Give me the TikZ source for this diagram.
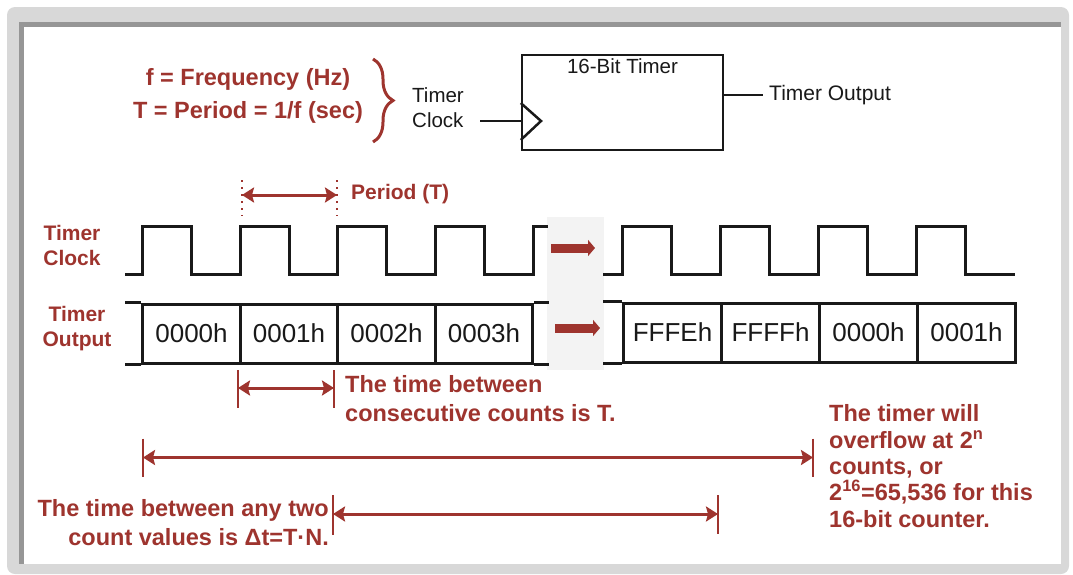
\documentclass[tikz,border=0pt]{standalone}
\usepackage{fontspec}
\setmainfont{Liberation Sans}
\usepackage{tikz}
\usetikzlibrary{decorations.pathreplacing, arrows.meta, calc}
\definecolor{brick}{RGB}{158,52,46}
\definecolor{inkblack}{RGB}{25,25,25}
\definecolor{framegray}{RGB}{216,216,216}
\definecolor{framedark}{RGB}{150,150,150}
\definecolor{gapgray}{RGB}{243,243,243}
\tikzset{
    wave/.style={draw=inkblack, line width=3pt, line join=miter},
    cell/.style={draw=inkblack, line width=3pt, minimum width=97.5pt, minimum height=59pt,
        inner sep=0pt, text=inkblack, font=\fontsize{26}{26}\selectfont},
    stub/.style={draw=inkblack, line width=3pt},
    plaintext/.style={align=left, inner sep=0pt, text=inkblack, font=\fontsize{20.5}{25}\selectfont},
    redlabel/.style={align=center, inner sep=0pt, text=brick, font=\bfseries\fontsize{21}{25}\selectfont},
    note/.style={inner sep=0pt, text=brick, font=\bfseries\fontsize{23.5}{29}\selectfont},
    dimbar/.style={draw=brick, line width=2pt},
    dimarrow/.style={draw=brick, line width=3pt, {Stealth[length=12pt,width=15pt,inset=2pt]}-{Stealth[length=12pt,width=15pt,inset=2pt]}},
    gaparrow/.style={draw=brick, line width=9pt, -{Triangle[length=7pt,width=16pt]}}
}

\begin{document}
\begin{tikzpicture}[x=1pt, y=-1pt]
    \useasboundingbox (0,0) rectangle (1073,574);

    % frame
    \fill[framegray, rounded corners=8pt] (7,7) rectangle (1069,574);
    \fill[framedark] (19,22) rectangle (1061,564);
    \fill[white] (24,27) rectangle (1061,564);

    % definitions and timer block
    \node[note, align=center, font=\bfseries\fontsize{23.5}{33}\selectfont] (defs) at (248,95.5)
        {f = Frequency (Hz)\\T = Period = 1/f (sec)};
    \draw[brick, line width=3pt, decorate, decoration={brace, amplitude=20pt}] (373,59) -- (373,142);
    \node[plaintext, anchor=west] (clklbl) at (412,107.5) {Timer\\Clock};

    \node[draw=inkblack, line width=2.5pt, minimum width=201pt, minimum height=95pt] (timer) at (622.5,102.5) {};
    \node[plaintext, anchor=north] (timertitle) at ([yshift=-5pt]timer.north) {16-Bit Timer};
    \draw[inkblack, line width=2.5pt] (timer.west |- 0,103) -- (541,121) -- (timer.west |- 0,140);
    \coordinate (clkin) at (480,121);
    \draw[inkblack, line width=2.5pt] (clkin) -- (clkin -| timer.west);
    \node[plaintext, anchor=west, font=\fontsize{21}{25}\selectfont] (outlbl) at (769,95) {Timer Output};
    \draw[inkblack, line width=2.5pt] (timer.east |- outlbl) -- ([xshift=-6pt]outlbl.west);

    % gap between the two halves
    \fill[gapgray] (547,217) rectangle (604,370);
    \coordinate (ga1) at (551,248);
    \coordinate (ga2) at (595,248);
    \draw[gaparrow] (ga1) -- (ga2);
    \coordinate (gb1) at (555,328);
    \coordinate (gb2) at (600,328);
    \draw[gaparrow] (gb1) -- (gb2);

    % period marker
    \coordinate (p1) at (242,195);
    \coordinate (p2) at (337,195);
    \draw[brick, line width=1.8pt, dash pattern=on 2pt off 5pt] (p1) ++(0,-15) -- ++(0,36);
    \draw[brick, line width=1.8pt, dash pattern=on 2pt off 5pt] (p2) ++(0,-15) -- ++(0,36);
    \draw[dimarrow] (p1) -- (p2);
    \node[redlabel, anchor=west] (periodlbl) at (351,194) {Period (T)};

    % signal names
    \node[redlabel] (clkname) at (72,245.5) {Timer\\Clock};
    \node[redlabel] (outname) at (77,329) {Timer\\Output};

    % timer clock
    \draw[wave] (125,274) -- (142.5,274) |- (191,226) |- (240,274) |- (289,226) |- (337.5,274)
        |- (386.5,226) |- (435,274) |- (484,226) |- (533,274) |- (548,226);
    \draw[wave] (603,274) -- (622,274) |- (671,226) |- (720,274) |- (769,226) |- (818,274)
        |- (867,226) |- (916,274) |- (965,226) |- (1015,274);

    % timer output, first counts
    \foreach \val [count=\i from 0] in {0000h,0001h,0002h,0003h}
        \node[cell] (L\i) at (191.5+97.5*\i,333.5) {\val};
    \draw[stub] (L0.north west) -- ++(-16,0);
    \draw[stub] (L0.south west) -- ++(-16,0);
    \draw[stub] (L3.north east) -- ++(15,0);
    \draw[stub] (L3.south east) -- ++(15,0);

    % timer output, around the overflow
    \foreach \val [count=\i from 0] in {FFFEh,FFFFh,0000h,0001h}
        \node[cell, minimum width=98pt] (R\i) at (672.5+98*\i,332.5) {\val};
    \draw[stub] (R0.north west) -- ++(-19,0);
    \draw[stub] (R0.south west) -- ++(-19,0);

    % one count
    \coordinate (s1) at (238,388);
    \coordinate (s2) at (334,388);
    \draw[dimbar] (s1) ++(0,-18) -- ++(0,38);
    \draw[dimbar] (s2) ++(0,-18) -- ++(0,38);
    \draw[dimarrow] (s1) -- (s2);
    \node[note, align=left, anchor=west] (countnote) at (345,398.5)
        {The time between\\consecutive counts is T.};

    % full range
    \coordinate (f1) at (143,457.5);
    \coordinate (f2) at (813,457.5);
    \draw[dimbar] (f1) ++(0,-19) -- ++(0,38);
    \draw[dimbar] (f2) ++(0,-19) -- ++(0,38);
    \draw[dimarrow] (f1) -- (f2);
    \node[note, align=left, anchor=west, font=\bfseries\fontsize{23.5}{26.3}\selectfont] (overflownote) at (829,466)
        {The timer will\\overflow at 2\textsuperscript{n}\\counts, or\\2\textsuperscript{16}=65,536 for this\\16-bit counter.};

    % any two counts
    \coordinate (d1) at (333,514);
    \coordinate (d2) at (718,514);
    \draw[dimbar] (d1) ++(0,-19) -- ++(0,40);
    \draw[dimbar] (d2) ++(0,-19) -- ++(0,39);
    \draw[dimarrow] (d1) -- (d2);
    \node[note, align=right, anchor=east] (deltanote) at (329,523)
        {The time between any two\\count values is Δt=T·N.};
\end{tikzpicture}
\end{document}
